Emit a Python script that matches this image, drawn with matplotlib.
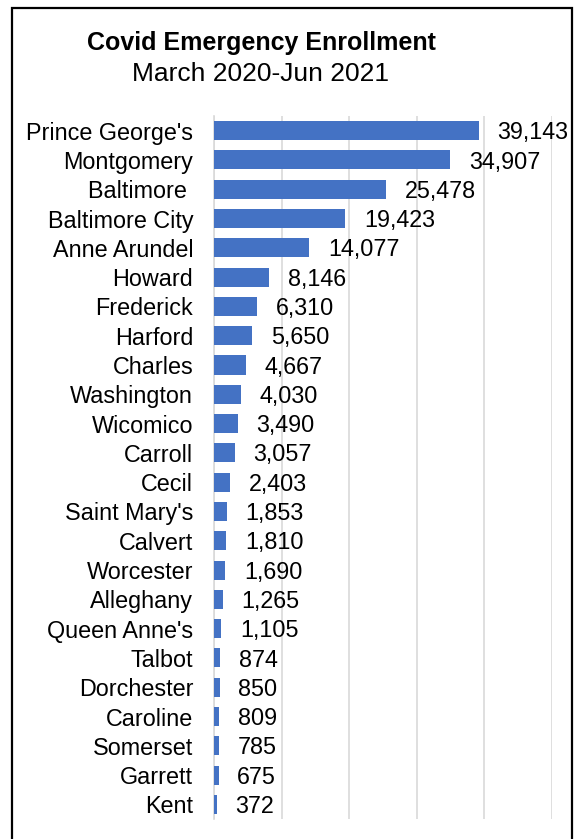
import matplotlib.pyplot as plt
from matplotlib.patches import Rectangle

# County enrollment, March 2020 - June 2021
counties = ["Prince George's", "Montgomery", "Baltimore ", "Baltimore City",
            "Anne Arundel", "Howard", "Frederick", "Harford", "Charles",
            "Washington", "Wicomico", "Carroll", "Cecil", "Saint Mary's",
            "Calvert", "Worcester", "Alleghany", "Queen Anne's", "Talbot",
            "Dorchester", "Caroline", "Somerset", "Garrett", "Kent"]
enrollment = [39143, 34907, 25478, 19423, 14077, 8146, 6310, 5650, 4667,
              4030, 3490, 3057, 2403, 1853, 1810, 1690, 1265, 1105, 874,
              850, 809, 785, 675, 372]
grid_ticks = [0, 10000, 20000, 30000, 40000, 50000]

plt.rcParams['font.family'] = ['Liberation Sans', 'DejaVu Sans']

fig = plt.figure(figsize=(5.82, 8.39), dpi=100)
ax = fig.add_axes([0.3677, 0.0238, 0.5808, 0.8379])

ypos = list(range(len(counties)))
ax.barh(ypos, enrollment, height=0.65, color='#4472C4', zorder=3)
ax.set_ylim(len(counties) - 0.5, -0.5)
ax.set_xlim(0, 50000)
ax.set_yticks(ypos)
ax.set_yticklabels(counties, fontsize=16.8)
ax.set_xticks(grid_ticks)
ax.set_xticklabels([])
ax.tick_params(length=0)
ax.tick_params(axis='y', pad=15)
ax.grid(axis='x', color='#d9d9d9', linewidth=1.2, zorder=0)
for s in ['top', 'right', 'bottom']:
    ax.spines[s].set_visible(False)
ax.spines['left'].set_color('#d9d9d9')
ax.spines['left'].set_linewidth(1.2)

for y, v in zip(ypos, enrollment):
    ax.annotate(f"{v:,}", (v, y), xytext=(13.5, -1.5), textcoords='offset points',
                ha='left', va='center', fontsize=16.8, zorder=4)

fig.text(0.45, 0.949, "Covid Emergency Enrollment", ha='center', va='center',
         fontsize=18, fontweight='bold')
fig.text(0.447, 0.912, "March 2020-Jun 2021", ha='center', va='center',
         fontsize=19)

# frame around the chart
fig.patches.append(Rectangle((12 / 582, -0.05), 560 / 582, 1.05 - 8 / 839,
                             transform=fig.transFigure, fill=False,
                             edgecolor='black', linewidth=1.6))

fig.savefig("out.png", dpi=100)
